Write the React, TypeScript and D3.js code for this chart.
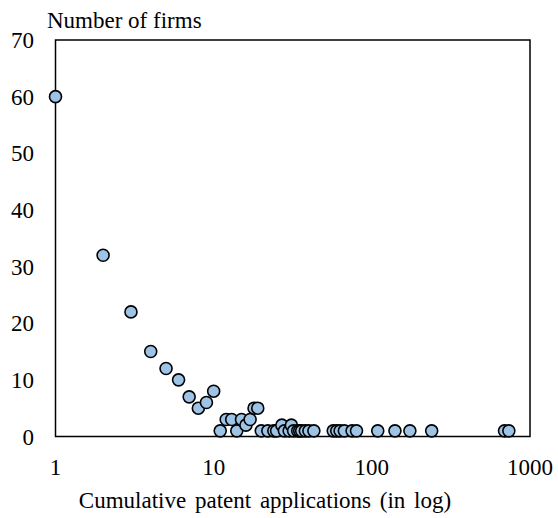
import React from "react";
import * as d3 from "d3";

const patents = [1,2,3,4,5,6,7,8,9,10,11,12,13,14,15,16,17,18,19,20,22,24,25,27,28,30,31,32,34,35,36,38,40,43,57,60,63,67,75,80,109,140,174,239,690,735];
const firms = [60,32,22,15,12,10,7,5,6,8,1,3,3,1,3,2,3,5,5,1,1,1,1,2,1,1,2,1,1,1,1,1,1,1,1,1,1,1,1,1,1,1,1,1,1,1];
const xTicks = [1, 10, 100, 1000];
const yTicks = [0, 10, 20, 30, 40, 50, 60, 70];
const yTitle = "Number of firms";
const xTitle = "Cumulative patent applications (in log)";

const W = 558, H = 518;
const left = 55.5, right = 530, top = 40, bottom = 436.5;
const FONT = "Liberation Serif, Times New Roman, DejaVu Serif, serif";
const ts: React.CSSProperties = { fontFamily: FONT, fontSize: "23px" };

export default function App() {
  const x = d3.scaleLog().domain([1, 1000]).range([left, right]);
  const y = d3.scaleLinear().domain([0, 70]).range([bottom, top]);
  const pts = patents.map((p, i) => ({ p, f: firms[i] }));
  return (
    <svg width={W} height={H} style={{ position: "absolute", left: 0, top: 0, background: "#fff" }}>
      <rect x={0} y={0} width={W} height={H} fill="#fff" />
      <rect x={left} y={top} width={right - left} height={bottom - top} fill="none" stroke="#000" strokeWidth={1.5} />
      {yTicks.map((t) => (
        <text key={t} x={34} y={y(t)} dy="0.35em" textAnchor="end" style={ts} fill="#000">{t}</text>
      ))}
      {xTicks.map((t) => (
        <text key={t} x={x(t)} y={475} textAnchor="middle" style={ts} fill="#000">{t}</text>
      ))}
      <text x={47} y={28} style={ts} fill="#000">{yTitle}</text>
      <text x={265} y={508} textAnchor="middle" style={{ ...ts, wordSpacing: "3px" }} fill="#000">{xTitle}</text>
      {pts.map((d, i) => (
        <circle key={i} cx={x(d.p)} cy={y(d.f)} r={6} fill="#9dc3e6" stroke="#000" strokeWidth={1.6} />
      ))}
    </svg>
  );
}
